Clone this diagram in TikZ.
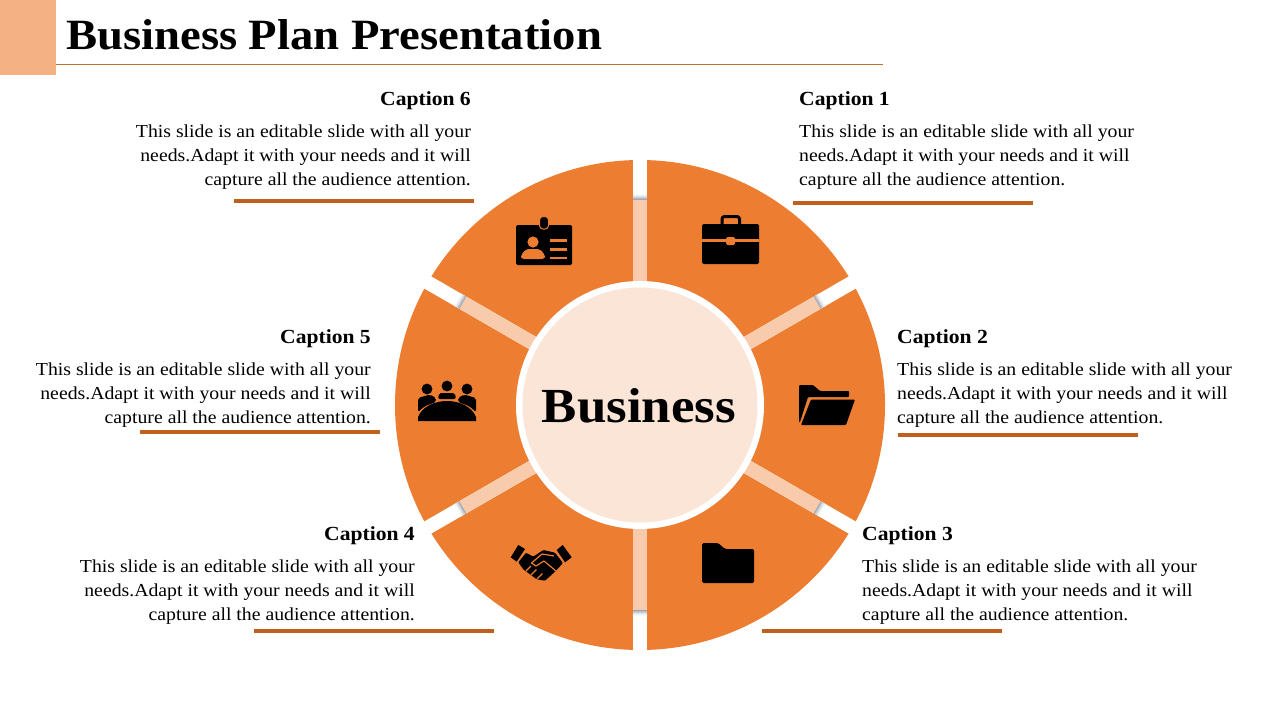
\documentclass[tikz,border=0pt]{standalone}
\usepackage{fontspec}
\usepackage{xcolor}
\setmainfont[FakeStretch=1.08]{Liberation Serif}
\definecolor{wheelorange}{HTML}{ED7D31}
\definecolor{barpale}{HTML}{F8CBAD}
\definecolor{hubpale}{HTML}{FBE5D6}
\definecolor{cornerpeach}{HTML}{F4B183}
\definecolor{ruleorange}{HTML}{C0601F}
\definecolor{titleline}{HTML}{B8732E}
\definecolor{tipgray}{HTML}{8F98A3}
\newcommand{\capbody}{This slide is an editable slide with all your\\needs.Adapt it with your needs and it will\\capture all the audience attention.}
\tikzset{
    captionhead/.style={inner sep=0pt, font=\fontsize{20}{24}\selectfont\bfseries},
    bodytext/.style={inner sep=0pt, font=\fontsize{18.3}{24}\selectfont},
    caprule/.style={ruleorange, line width=3.2pt},
    iconcut/.style={wheelorange, line width=1.2pt}
}
\begin{document}
\begin{tikzpicture}[x=1pt, y=-1pt]
    \useasboundingbox (0,0) rectangle (1280,720);

    % Corner block and heading
    \fill[cornerpeach] (0,0) rectangle (56,75);
    \draw[titleline, line width=1pt] (56,64.5) -- (883,64.5);
    \node[inner sep=0pt, anchor=west, font=\fontsize{43.2}{48}\selectfont\bfseries] (title) at (66,35) {Business Plan Presentation};

    % The wheel
    \fill[wheelorange] (640,405) circle (245);
    \foreach \ang in {90,30,-30,-90,-150,150} {
        \begin{scope}[shift={(640,405)}, rotate=\ang]
            \fill[white] (0,-7) rectangle (252,7);
            \fill[barpale] (100,-7) rectangle (205,7);
            % small grey step at the end of each bar
            \foreach \r/\tone in {204.6/85,205.6/65,206.6/45,207.6/28,208.6/14,209.6/6} {
                \fill[tipgray!\tone] (\r,-7) rectangle (\r+1.1,7);
            }
        \end{scope}
    }

    % Hub
    \fill[white] (640,405) circle (124);
    \fill[hubpale] (640,405) circle (117.5);
    \node[inner sep=0pt, font=\fontsize{49}{54}\selectfont\bfseries] (hub) at (639,406) {Business};

    % Captions on the right
    \node[captionhead, anchor=west] (cap1) at (799,101) {Caption 1};
    \node[bodytext, anchor=west, align=left] (body1) at (799,157) {\capbody};
    \draw[caprule] (793,203) -- (1033,203);

    \node[captionhead, anchor=west] (cap2) at (897,339) {Caption 2};
    \node[bodytext, anchor=west, align=left] (body2) at (897,395) {\capbody};
    \draw[caprule] (898,435) -- (1138,435);

    \node[captionhead, anchor=west] (cap3) at (862,536) {Caption 3};
    \node[bodytext, anchor=west, align=left] (body3) at (862,592) {\capbody};
    \draw[caprule] (762,631) -- (1002,631);

    % Captions on the left
    \node[captionhead, anchor=east] (cap4) at (415,536) {Caption 4};
    \node[bodytext, anchor=east, align=right] (body4) at (415,592) {\capbody};
    \draw[caprule] (254,631) -- (494,631);

    \node[captionhead, anchor=east] (cap5) at (371,339) {Caption 5};
    \node[bodytext, anchor=east, align=right] (body5) at (371,395) {\capbody};
    \draw[caprule] (140,432) -- (380,432);

    \node[captionhead, anchor=east] (cap6) at (471,101) {Caption 6};
    \node[bodytext, anchor=east, align=right] (body6) at (471,157) {\capbody};
    \draw[caprule] (234,201) -- (474,201);

    % Briefcase
    \draw[black, line width=3pt, rounded corners=2.5pt] (722,226) -- (722,216.5) -- (739.5,216.5) -- (739.5,226);
    \fill[black, rounded corners=1.5pt] (702,224) rectangle (759,264);
    \fill[wheelorange] (702,239.3) rectangle (759,241.5);
    \fill[wheelorange, rounded corners=1.5pt] (726,237) rectangle (735,245);

    % Open folder
    \fill[black, rounded corners=1pt] (799,422) -- (799,385) -- (813,385) -- (820,391) -- (849,391) -- (849,397) -- (808,397) -- (800,422) -- cycle;
    \fill[black, rounded corners=1pt] (811,399.5) -- (855,399.5) -- (846,425) -- (801,425) -- cycle;

    % Closed folder
    \fill[black, rounded corners=1.5pt] (702,583) -- (702,543) -- (718,543) -- (725,549) -- (754,549) -- (754,583) -- cycle;

    % Handshake
    \fill[black] (510.7,557.3) -- (518.3,545) -- (525,549) -- (516.7,561.7) -- cycle;
    \fill[black] (556.7,550) -- (562.7,545) -- (571.7,557.3) -- (565,562.3) -- cycle;
    \fill[black, rounded corners=1pt] (526,552.7) -- (533.3,556.7) -- (543.3,550) -- (555,552.7) -- (563,563) -- (555,571.7) -- (545,580.7) -- (536.7,579.3) -- (523.3,569.3) -- (518.3,562.3) -- cycle;
    \draw[iconcut, line join=round] (556,571) -- (544,561) -- (536,566) -- (531.5,563) -- (542,554) -- (554,556);
    \draw[iconcut] (526,571) -- (531,566) (531,575) -- (536.5,569.5) (537,579) -- (542.5,573.5);

    % Team round a table
    \fill[black] (427,389) circle (5.4);
    \fill[black] (447,386) circle (5.4);
    \fill[black] (467,389) circle (5.4);
    \fill[black, rounded corners=2pt] (418,412) -- (418,398) -- (430,394.5) -- (436,398) -- (436,402) -- (425,406) -- cycle;
    \fill[black, rounded corners=2pt] (476,412) -- (476,398) -- (464,394.5) -- (458,398) -- (458,402) -- (469,406) -- cycle;
    \fill[black, rounded corners=2pt] (438,399) -- (439,393) -- (455,393) -- (456,399) -- cycle;
    \fill[black] (418,421) -- (418,417) .. controls (422,407) and (434,401) .. (447,401) .. controls (460,401) and (472,407) .. (476,417) -- (476,421) -- cycle;

    % Id badge
    \fill[black, rounded corners=1.5pt] (516,225) rectangle (572,265);
    \fill[black, draw=wheelorange, line width=1pt, rounded corners=3.5pt] (539.5,216.5) rectangle (548.5,229);
    \fill[wheelorange] (533,242) circle (5.6);
    \fill[wheelorange, rounded corners=3pt] (521,259) -- (521,255) -- (526,249) -- (540,249) -- (545,255) -- (545,259) -- cycle;
    \fill[wheelorange] (550,239.3) rectangle (566.5,241.8);
    \fill[wheelorange] (550,248.3) rectangle (566.5,250.8);
    \fill[wheelorange] (550,256.8) rectangle (566.5,259.3);
\end{tikzpicture}
\end{document}
